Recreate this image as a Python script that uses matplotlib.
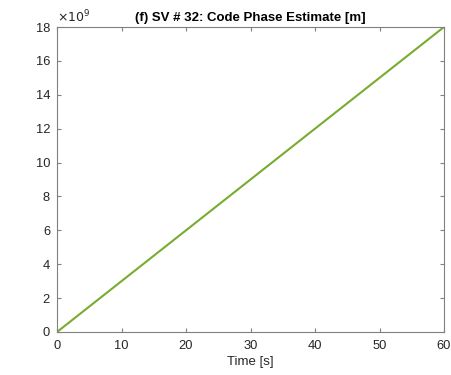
import numpy as np
import matplotlib as mpl
from matplotlib import pyplot as plt
from matplotlib.ticker import FuncFormatter

mpl.rcParams['font.family'] = ['Liberation Sans', 'DejaVu Sans']

time_s = [0, 10, 20, 30, 40, 50, 60]
code_phase_m = [0, 3.0e9, 6.0e9, 9.0e9, 12.0e9, 15.0e9, 18.0e9]
x_ticks = [0, 10, 20, 30, 40, 50, 60]
y_ticks = np.arange(0, 19, 2) * 1e9

grey = '#262626'
axis_grey = '#808080'


def main():
    fig = plt.figure(figsize=(4.51, 3.75), dpi=100)
    ax = fig.add_axes([0.1264, 0.1147, 0.8581, 0.8133])
    ax.plot(time_s, code_phase_m, color='#77AC30', linewidth=1.5)

    ax.set_xlim(0, 60)
    ax.set_ylim(0, 18e9)
    ax.set_xticks(x_ticks)
    ax.set_yticks(y_ticks)
    ax.yaxis.set_major_formatter(FuncFormatter(lambda v, p: f"{v / 1e9:g}"))

    for side in ['left', 'right', 'top', 'bottom']:
        ax.spines[side].set_color(axis_grey)
        ax.spines[side].set_linewidth(0.8)
    ax.tick_params(direction='in', length=3, width=0.8, color=axis_grey,
                   labelsize=9.3, labelcolor=grey, top=True, right=True,
                   labeltop=False, labelright=False)
    ax.tick_params(axis='x', pad=6)
    ax.tick_params(axis='y', pad=5)

    ax.set_xlabel("Time [s]", fontsize=9.5, color=grey, labelpad=3)
    ax.set_title("(f) SV # 32: Code Phase Estimate [m]", fontsize=9.5,
                 fontweight='bold', color='black', pad=4)
    ax.text(0.0, 1.005, r"$\times10^{9}$", transform=ax.transAxes,
            fontsize=9, color=grey, ha='left', va='bottom')

    fig.savefig("out.png", dpi=100)


if __name__ == "__main__":
    main()
